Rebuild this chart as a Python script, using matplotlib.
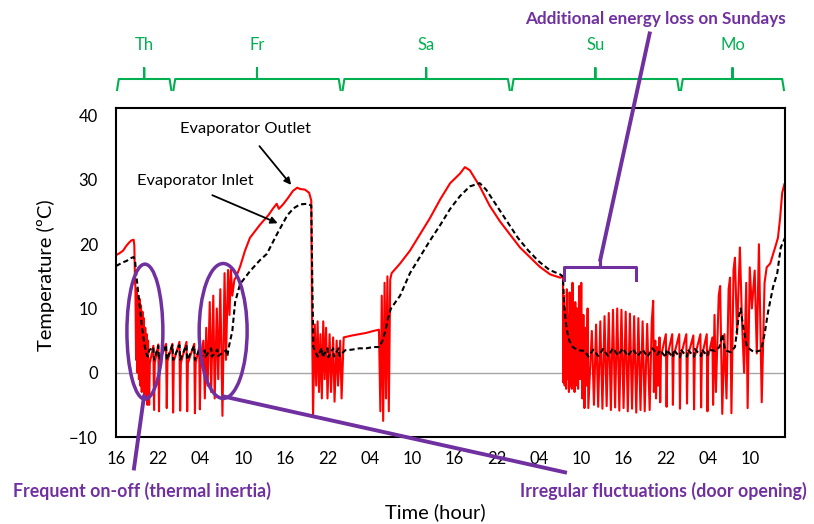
import matplotlib
matplotlib.use('Agg')
import matplotlib.pyplot as plt
from matplotlib.patches import Ellipse
from matplotlib.transforms import blended_transform_factory

plt.rcParams['font.family'] = ['Lato', 'DejaVu Sans']

# hours counted from Thursday 16:00
out_h_thu = [0, 0.5, 1.0, 1.5, 1.9, 2.2, 2.5, 2.6, 2.7,
             2.75, 2.85, 2.95, 3.05, 3.15, 3.25, 3.35, 3.45, 3.55, 3.65, 3.75, 3.85,
             3.95, 4.05, 4.15, 4.25, 4.35, 4.45, 4.55, 4.7,
             4.8, 5.3, 5.4, 5.5, 6.0, 6.1, 6.2, 7.1, 7.2, 7.3, 8.0]
out_t_thu = [18.3, 18.6, 19.0, 19.8, 20.3, 20.6, 20.7, 19.8, 14.0,
             13.5, 2.0, 13.0, 0.0, 12.0, -1.0, 11.5, -2.0, 10.5, -3.0, 9.5, -2.0,
             8.5, -4.0, 7.0, -3.0, 6.0, -5.0, 5.0, -5.0,
             1.5, 4.2, -5.8, 1.5, 4.4, -6.0, 1.8, 4.5, -5.5, 1.8, 4.5]

out_h_fri = [8.1, 8.2, 9.0, 9.1, 9.2, 10.0, 10.1, 10.2, 11.1, 11.2, 11.3, 11.8, 11.9,
             12.0, 12.4, 12.6, 12.8, 13.0, 13.3, 13.5, 13.8, 14.0, 14.3, 14.5, 14.8,
             15.1, 15.4, 15.6, 15.9, 16.1, 16.3, 16.5, 16.8, 17.0, 17.6, 18.3, 19.0,
             19.7, 20.4, 21.6, 22.3, 22.8, 23.1, 23.7, 24.4, 25.1, 25.7, 26.1, 26.8,
             27.4, 27.7, 27.8, 27.95, 28.2, 28.4, 28.6, 28.8, 29.0, 29.2, 29.4, 29.6,
             29.8, 30.0, 30.3, 30.5, 30.8, 31.0, 31.3, 31.5, 31.8, 32.0]
out_t_fri = [-6.2, 1.8, 4.8, -5.9, 1.5, 4.8, -6.0, 1.5, 4.5, -6.3, 1.5, 4.0, -5.7,
             2.0, 5.0, -4.0, 7.0, -2.0, 11.0, -3.0, 12.0, -4.0, 10.0, -1.0, 13.0,
             -6.7, 15.5, 2.0, 16.0, 9.0, 16.0, 12.0, 14.5, 14.8, 16.5, 19.0, 21.0,
             22.0, 23.0, 24.5, 25.6, 26.3, 25.5, 26.2, 27.2, 28.3, 28.8, 28.6, 28.5,
             28.0, 26.8, 10.0, -6.7, 7.5, -2.0, 8.0, -3.0, 6.0, -4.0, 8.0, -1.0,
             7.0, -4.0, 6.0, -3.0, 5.5, -4.5, 5.0, -2.0, 5.0, -4.0]

out_h_sat = [32.3, 33.5, 34.5, 35.5, 36.5, 37.3, 37.5, 37.7, 37.9, 38.1, 38.3, 38.5,
             38.7, 38.9, 39.1, 40.3, 41.7, 43.1, 44.5, 46.0, 47.4, 48.8, 49.5, 50.2,
             51.6, 53.0, 54.5, 55.9]
out_t_sat = [5.5, 5.8, 6.0, 6.2, 6.5, 6.7, -6.0, 12.0, -7.5, 14.0, -4.0, 15.0,
             -6.0, 14.5, 15.5, 17.0, 19.0, 21.5, 24.0, 27.0, 29.5, 31.0, 32.0, 31.5,
             29.0, 26.0, 23.5, 21.5]

out_h_sun = [57.3, 58.7, 60.1, 61.6, 63.0, 63.4, 63.45,
             63.55, 63.65, 63.75, 63.85, 63.95, 64.05, 64.15, 64.25, 64.35, 64.45,
             64.55, 64.65, 64.75, 64.85, 64.95, 65.05, 65.15, 65.25, 65.4, 65.55,
             65.7, 65.85, 66.0, 66.15, 66.3, 66.45, 66.6, 66.75, 66.9, 67.0,
             67.5, 67.8, 68.1, 68.4, 68.7, 69.0, 69.3, 69.6, 69.9, 70.2, 70.5, 70.8,
             71.1, 71.4, 71.7, 72.0, 72.3, 72.6, 72.9, 73.2, 73.5, 73.8, 74.1, 74.4,
             74.7, 75.0, 75.35, 75.7, 76.0, 76.2, 76.3, 76.5, 76.6, 76.8, 76.9, 77.1,
             77.2, 77.3, 78.0, 78.1, 78.2, 78.9, 79.0, 79.1, 79.9, 80.0]
out_t_sun = [19.5, 18.0, 16.5, 15.3, 14.8, 15.0, -1.5,
             12.0, -2.0, 10.0, -2.5, 13.0, -1.0, 9.0, -3.0, 12.5, -2.0,
             10.0, -2.5, 14.0, -1.5, 9.0, -3.0, 11.0, -2.0, 10.0, -2.5,
             13.5, -1.0, 14.0, -4.0, 9.0, -5.5, 7.0, -2.0, 10.0, -5.5,
             6.5, -5.0, 7.5, -5.3, 8.0, -5.6, 8.8, -5.2, 9.3, -5.8, 9.8, -5.4,
             10.0, -5.9, 9.8, -5.5, 9.5, -6.0, 9.2, -5.6, 8.8, -6.2, 8.5, -5.8,
             8.0, -6.0, 7.6, -5.8, 8.0, 11.2, -3.0, 5.0, -4.0, 4.0, -2.0, 5.5,
             -4.6, 2.5, 6.0, -5.3, 2.5, 6.0, -5.0, 2.5, 6.0, -5.6]

out_h_mon = [80.1, 80.9, 81.0, 81.1, 81.9, 82.0, 82.1, 82.9, 83.0, 83.1, 83.8, 83.9,
             84.0, 84.6, 84.7, 84.9, 85.1, 85.5, 85.7, 86.0, 86.3, 86.6, 86.9, 87.1,
             87.3, 87.6, 87.8, 88.1, 88.5, 88.8, 89.1, 89.4, 89.6, 89.9, 90.2, 90.6,
             90.9, 91.2, 91.6, 92.0, 92.3, 92.8, 93.5, 93.9, 94.2, 94.5, 94.8]
out_t_mon = [2.5, 6.0, -4.8, 2.5, 5.8, -5.7, 2.5, 6.0, -5.4, 2.5, 6.0, -6.0,
             2.5, 5.5, -5.0, 9.0, -3.0, 12.0, 13.5, -6.4, 6.0, -4.0, 13.0, 14.8,
             -6.3, 16.0, 17.9, 6.0, 19.5, 8.0, 0.0, 14.0, -5.5, 16.4, 10.0, 15.9,
             3.0, 20.0, -4.6, 14.0, 16.4, 17.0, 19.5, 21.0, 24.0, 28.0, 29.3]

in_h_thu = [0, 0.5, 1.0, 1.5, 2.0, 2.5, 2.7, 2.9, 3.1, 3.3, 3.5, 3.7, 3.9, 4.1, 4.3,
            4.5, 4.7, 5.3, 5.4, 6.0, 6.1, 7.1, 7.2, 8.0]
in_t_thu = [16.6, 16.9, 17.2, 17.4, 17.8, 18.0, 17.5, 15.0, 13.0, 11.0, 9.0, 7.0, 5.5,
            4.0, 3.0, 2.5, 3.5, 4.0, 2.0, 4.2, 2.0, 4.3, 2.0, 4.3]

in_h_fri = [8.1, 9.0, 9.1, 10.0, 10.1, 11.1, 11.2, 11.9, 12.0, 12.6, 12.7, 13.5, 13.6,
            14.4, 14.5, 15.6, 15.8, 16.0, 16.5, 16.9, 17.6, 19.0, 20.4, 21.4, 22.8,
            24.3, 25.2, 26.1, 27.2, 27.7, 27.85, 28.0, 28.6, 29.2, 29.3, 30.0, 30.1,
            30.8, 30.9, 31.6, 31.7]
in_t_fri = [2.0, 4.3, 2.0, 4.3, 2.0, 4.2, 2.0, 3.8, 2.2, 3.5, 2.5, 3.8, 2.5,
            3.6, 2.6, 3.5, 2.6, 4.0, 6.5, 11.0, 13.8, 15.8, 17.5, 18.5, 21.5,
            24.5, 25.6, 26.2, 26.3, 26.0, 14.0, 4.0, 2.5, 3.9, 2.4, 3.8, 2.4,
            3.8, 2.5, 3.8, 2.6]

in_h_sat = [32.5, 33.5, 34.5, 35.5, 36.5, 37.4, 37.8, 38.2, 38.6, 39.0, 40.3, 41.7,
            43.1, 44.5, 46.0, 47.4, 48.8, 50.2, 51.6, 52.5, 54.0, 55.5]
in_t_sat = [3.5, 3.6, 3.8, 3.8, 4.0, 4.0, 5.0, 6.5, 8.5, 10.0, 12.0, 15.5,
            18.0, 20.5, 23.0, 25.5, 27.5, 29.0, 29.5, 28.5, 26.0, 23.5]

in_h_sun = [57.0, 58.5, 60.0, 61.5, 63.0, 63.4, 63.6, 63.9, 64.3, 64.8, 65.5, 66.5,
            67.0, 67.7, 68.4, 69.1, 69.8, 70.5, 71.2, 71.9, 72.6, 73.3, 74.0, 74.7,
            75.4, 76.1, 76.8, 77.2, 78.0, 78.1, 79.0, 79.1]
in_t_sun = [21.0, 19.0, 17.3, 16.0, 15.3, 15.0, 10.0, 7.0, 5.0, 4.0, 3.5, 3.4,
            2.5, 3.6, 2.6, 3.7, 2.6, 3.8, 2.7, 3.8, 2.6, 3.7, 2.6, 3.6,
            2.5, 3.8, 2.8, 3.5, 2.4, 3.6, 2.4, 3.6]

in_h_mon = [80.0, 80.1, 81.0, 81.1, 82.0, 82.1, 83.0, 83.1, 83.9, 84.0, 85.0, 85.6,
            86.0, 86.4, 87.2, 87.8, 88.3, 88.6, 89.0, 89.5, 90.5, 91.5, 92.0, 92.5,
            93.2, 93.8, 94.3, 94.9]
in_t_mon = [2.4, 3.6, 2.5, 3.6, 2.5, 3.7, 2.6, 3.6, 2.6, 3.6, 3.4, 4.0,
            6.0, 3.5, 3.2, 4.0, 8.5, 10.0, 7.0, 4.0, 3.2, 3.5, 6.0, 9.5,
            13.3, 15.5, 19.5, 21.0]

tick_hours = list(range(0, 91, 6))
tick_labels = ['16', '22', '04', '10'] * 4
days = ['Th', 'Fr', 'Sa', 'Su', 'Mo']
day_start = [0, 8, 32, 56, 80]
day_end = [8, 32, 56, 80, 94.9]

out_h = out_h_thu + out_h_fri + out_h_sat + out_h_sun + out_h_mon
out_t = out_t_thu + out_t_fri + out_t_sat + out_t_sun + out_t_mon
in_h = in_h_thu + in_h_fri + in_h_sat + in_h_sun + in_h_mon
in_t = in_t_thu + in_t_fri + in_t_sat + in_t_sun + in_t_mon

purple = '#7030A0'
green = '#00B050'
W, H = 814, 524

fig = plt.figure(figsize=(W / 100, H / 100), dpi=100)
ax = fig.add_axes([116 / W, 1 - 437 / H, (785 - 116) / W, (437 - 108) / H])

ax.axhline(0, color='#A6A6A6', lw=1, zorder=1)
ax.plot(out_h, out_t, color='red', lw=1.5, zorder=2)
ax.plot(in_h, in_t, color='black', lw=1.5, ls=(0, (2.5, 1.5)), zorder=3)

ax.set_xlim(0, 94.9)
ax.set_ylim(-10, 41.2)
ax.set_xticks(tick_hours)
ax.set_xticklabels(tick_labels)
ax.set_yticks(range(-10, 41, 10))
ax.tick_params(length=0, labelsize=12)
ax.tick_params(axis='x', pad=10)
ax.tick_params(axis='y', pad=13)
for s in ax.spines.values():
    s.set_linewidth(1.5)

# series labels
ax.text(18.3, 37.9, 'Evaporator Outlet', ha='center', va='center', fontsize=11.8)
ax.annotate('', xy=(25.1, 28.9), xytext=(20.1, 35.6),
            arrowprops=dict(arrowstyle='-|>', color='black', lw=1.3, mutation_scale=10))
ax.text(11.2, 29.8, 'Evaporator Inlet', ha='center', va='center', fontsize=11.8)
ax.annotate('', xy=(23.3, 23.1), xytext=(13.3, 27.8),
            arrowprops=dict(arrowstyle='-|>', color='black', lw=1.3, mutation_scale=10))

# purple annotations
ax.add_patch(Ellipse((4.1, 6.4), 5.1, 21, fill=False, ec=purple, lw=2.5, zorder=5))
ax.add_patch(Ellipse((15.2, 6.5), 6.8, 21, fill=False, ec=purple, lw=2.5, zorder=5))
ax.plot([3.97, 2.55], [-3.7, -14.9], color=purple, lw=2.8, clip_on=False, zorder=5)
ax.plot([15.3, 63.7], [-3.7, -15.5], color=purple, lw=2.8, clip_on=False, zorder=5)
ax.plot([63.5, 63.5, 68.7, 68.7, 68.7, 73.8, 73.8],
        [14.4, 16.5, 16.5, 17.6, 16.5, 16.5, 14.4], color=purple, lw=2.2, zorder=5)
ax.plot([68.7, 75.7], [17.6, 52.8], color=purple, lw=2.8, clip_on=False, zorder=5)

fig.text(142 / W, 1 - 491 / H, 'Frequent on-off (thermal inertia)', color=purple,
         fontsize=12.8, fontweight='bold', ha='center', va='center')
fig.text(663 / W, 1 - 491 / H, 'Irregular fluctuations (door opening)', color=purple,
         fontsize=12.8, fontweight='bold', ha='center', va='center')
fig.text(655 / W, 1 - 19 / H, 'Additional energy loss on Sundays', color=purple,
         fontsize=12.3, fontweight='bold', ha='center', va='center')

# day brackets
tr = blended_transform_factory(ax.transData, fig.transFigure)
y_end, y_bar, y_nub = 1 - 90 / H, 1 - 79 / H, 1 - 68 / H
for d, a, b in zip(days, day_start, day_end):
    a2, b2 = a + 0.15, b - 0.15
    m = (a + b) / 2
    ax.plot([a2, a2 + 0.25, m - 0.25, m, m, m, m + 0.25, b2 - 0.25, b2],
            [y_end, y_bar, y_bar, y_bar, y_nub, y_bar, y_bar, y_bar, y_end],
            color=green, lw=1.5, transform=tr, clip_on=False)
    ax.text(m, 1 - 45 / H, d, color=green, fontsize=12, ha='center', va='center',
            transform=tr)

ax.set_xlabel('Time (hour)', fontsize=14.5)
ax.xaxis.set_label_coords(0.477, -0.2)
fig.text(46 / W, 1 - 275 / H, 'Temperature (\u00baC)', rotation=90, fontsize=14.5,
         ha='center', va='center')

fig.savefig('out.png', dpi=100)
